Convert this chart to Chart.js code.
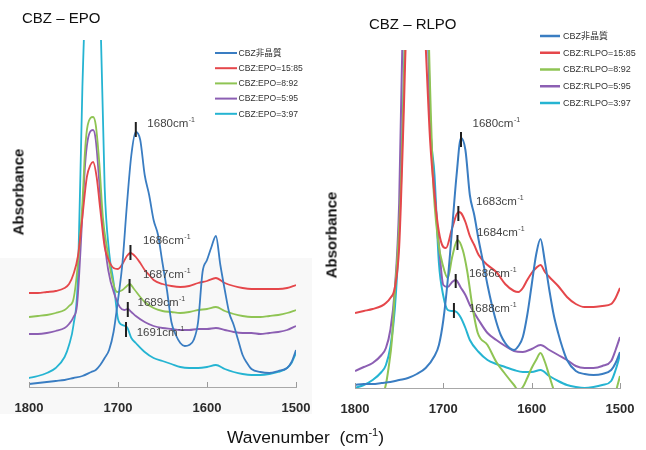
<!DOCTYPE html>
<html>
<head>
<meta charset="utf-8">
<script src="https://cdn.jsdelivr.net/npm/chart.js@4.4.0/dist/chart.umd.min.js"></script>
<style>
html,body{margin:0;padding:0;background:#fff;}
#wrap{position:relative;width:646px;height:450px;overflow:hidden;font-family:"Liberation Sans",Arial,sans-serif;}
canvas{position:absolute;top:0;}
#c1{left:0;}
#c2{left:318px;}
.t{position:absolute;white-space:nowrap;color:#111;line-height:1;}
.bg{position:absolute;background:#f8f8f8;}
sup{font-size:11px;vertical-align:7px;line-height:0;}
</style>
</head>
<body>
<div id="wrap">
<div class="bg" style="left:0;top:258px;width:312px;height:156px;"></div>
<canvas id="c1" width="318" height="450"></canvas>
<canvas id="c2" width="328" height="450"></canvas>
<div class="t" style="left:22px;top:10px;font-size:15px;">CBZ – EPO</div>
<div class="t" style="left:369px;top:16px;font-size:15px;">CBZ – RLPO</div>
<div class="t" style="left:18px;top:192px;font-size:15px;font-weight:bold;transform:translate(-50%,-50%) rotate(-90deg);">Absorbance</div>
<div class="t" style="left:331px;top:235px;font-size:15px;font-weight:bold;transform:translate(-50%,-50%) rotate(-90deg);">Absorbance</div>
<div class="t" style="left:227px;top:429px;font-size:17.4px;">Wavenumber&nbsp;&nbsp;(cm<sup>-1</sup>)</div>
</div>
<script>
// ---------- shared ----------
const tickWn = [1800, 1700, 1600, 1500];
const seriesColors = ['#3a7dc2', '#e5474b', '#8fc454', '#8c5fb3', '#25b4d2'];

// ---------- CBZ - EPO panel ----------
const epoLabels = ['CBZ非晶質', 'CBZ:EPO=15:85', 'CBZ:EPO=8:92', 'CBZ:EPO=5:95', 'CBZ:EPO=3:97'];

const epoBlueWn  = [1800,1790,1780,1770,1760,1750,1740,1730,1725,1720,1715,1710,1705,1700,1695,1690,1685,1680,1675,1670,1665,1660,1655,1650,1645,1640,1635,1630,1625,1620,1615,1610,1605,1600,1595,1590,1585,1580,1575,1570,1565,1560,1555,1550,1540,1530,1520,1510,1505,1500];
const epoBlueAbs = [3,4,5,6,7,9,11,15,17,22,29,37,55,87,124,182,232,255,247,212,192,167,152,124,97,65,52,44,41,42,47,65,115,127,140,151,122,97,74,62,47,32,24,18,15,14,16,19,25,37];

const epoRedWn  = [1800,1790,1780,1770,1760,1755,1750,1745,1740,1735,1731,1728,1724,1720,1715,1710,1705,1700,1695,1690,1686,1680,1675,1670,1665,1660,1650,1640,1630,1620,1610,1600,1590,1580,1570,1560,1550,1540,1530,1520,1510,1500];
const epoRedAbs = [94,94,95,96,99,103,113,131,170,210,222,225,210,178,140,126,119,118,123,131,134,130,124,117,112,107,103,101,100,101,104,106,109,104,101,99,98,98,98,98,99,102];

const epoGreenWn  = [1800,1790,1780,1770,1760,1755,1750,1745,1740,1737,1734,1728,1725,1721,1717,1712,1707,1701,1695,1690,1687,1682,1675,1670,1660,1650,1640,1630,1620,1610,1600,1590,1580,1570,1560,1550,1540,1530,1520,1510,1500];
const epoGreenAbs = [70,71,72,74,77,81,88,124,184,237,262,270,262,224,170,137,110,95,97,101,103,98,90,85,79,76,75,74,75,77,78,80,76,73,71,70,70,71,72,74,77];

const epoPurpleWn  = [1800,1790,1780,1770,1760,1755,1750,1746,1740,1737,1734,1728,1725,1718,1711,1703,1698,1693,1689,1685,1680,1670,1660,1650,1640,1630,1620,1610,1600,1590,1580,1570,1560,1550,1540,1530,1520,1510,1500];
const epoPurpleAbs = [53,53,54,56,59,63,70,82,172,222,247,257,247,170,117,90,80,77,78,75,71,65,61,59,58,57,57,58,58,59,57,55,54,54,53,54,55,57,61];

const epoCyanWn  = [1800,1790,1780,1770,1760,1755,1750,1745,1740,1735,1730,1725,1720,1715,1710,1705,1700,1695,1690,1685,1680,1670,1660,1650,1640,1630,1620,1610,1600,1590,1580,1570,1560,1550,1540,1530,1520,1510,1505,1500];
const epoCyanAbs = [9,11,14,19,30,42,62,110,300,420,460,440,380,200,135,105,68,62,60,49,44,35,29,26,23,20,19,19,20,22,18,15,13,12,12,13,15,19,24,34];

const epoPeakWn   = [1680, 1686, 1687, 1689, 1691];
const epoPeakLo   = [250, 127, 94, 70, 50];
const epoPeakHi   = [265, 142, 108, 85, 65];
const epoTextWn   = [1667, 1672, 1672, 1678, 1679];
const epoTextAbs  = [263, 146, 112, 84, 54];

// ---------- CBZ - RLPO panel ----------
const rlpoLabels = ['CBZ非晶質', 'CBZ:RLPO=15:85', 'CBZ:RLPO=8:92', 'CBZ:RLPO=5:95', 'CBZ:RLPO=3:97'];

const rlpoBlueWn  = [1800,1790,1780,1770,1760,1750,1740,1730,1720,1710,1705,1700,1695,1690,1685,1680,1675,1670,1665,1660,1655,1650,1645,1640,1635,1630,1625,1620,1615,1610,1605,1600,1595,1590,1585,1580,1575,1570,1565,1560,1550,1540,1530,1520,1510,1505,1500];
const rlpoBlueAbs = [3,4,4,5,6,8,10,14,20,32,43,68,108,160,213,250,238,193,173,148,126,103,83,66,53,45,40,38,42,51,73,103,133,149,126,98,73,55,40,28,17,14,13,14,18,25,36];

const rlpoRedWn  = [1800,1790,1780,1770,1765,1760,1755,1750,1745,1742,1730,1721,1715,1710,1705,1700,1697,1690,1683,1680,1675,1670,1665,1660,1650,1640,1630,1620,1615,1610,1605,1600,1595,1590,1585,1580,1570,1560,1550,1540,1530,1520,1510,1505,1500];
const rlpoRedAbs = [75,77,79,82,85,90,100,141,270,360,480,360,248,193,156,141,140,160,176,175,166,152,143,133,123,116,104,97,96,100,108,115,120,123,116,111,102,91,84,81,81,82,84,90,100];

const rlpoGreenWn  = [1800,1790,1780,1770,1766,1762,1758,1755,1752,1748,1744,1740,1730,1720,1715,1712,1706,1700,1695,1690,1684,1678,1673,1667,1661,1650,1640,1630,1620,1615,1610,1605,1600,1595,1590,1585,1580,1575,1570,1560,1550,1540,1530,1520,1510,1505,1500];
const rlpoGreenAbs = [-45,-30,-15,-4,0,20,50,95,130,200,330,450,480,450,300,215,148,121,110,131,148,138,117,81,55,43,26,14,3,-2,1,10,20,28,35,26,12,-2,-15,-30,-40,-45,-45,-40,-25,-5,12];

const rlpoPurpleWn  = [1800,1790,1780,1770,1765,1760,1755,1750,1746,1740,1730,1720,1715,1710,1705,1700,1695,1690,1686,1680,1675,1670,1660,1650,1640,1630,1620,1610,1600,1590,1580,1570,1560,1550,1540,1530,1520,1510,1505,1500];
const rlpoPurpleAbs = [17,21,25,33,40,58,98,185,360,460,480,460,273,198,143,103,101,106,108,100,93,83,68,55,48,42,37,36,39,43,38,33,28,22,20,20,22,27,38,51];

const rlpoCyanWn  = [1800,1790,1780,1770,1765,1760,1755,1750,1745,1740,1730,1720,1715,1710,1705,1700,1695,1690,1685,1680,1675,1670,1660,1650,1640,1630,1620,1610,1600,1590,1580,1570,1560,1550,1540,1530,1520,1510,1505,1500];
const rlpoCyanAbs = [0,3,8,16,23,41,78,158,300,450,480,450,268,213,125,92,78,77,76,70,60,48,36,28,24,21,18,16,16,18,12,7,3,1,0,1,3,7,18,33];

const rlpoPeakWn  = [1680, 1683, 1684, 1686, 1688];
const rlpoPeakLo  = [241, 167, 138, 100, 70];
const rlpoPeakHi  = [256, 182, 153, 114, 85];
const rlpoTextWn  = [1667, 1663, 1662, 1671, 1671];
const rlpoTextAbs = [264, 186, 155, 114, 79];

// ---------- plugins ----------
const insideLegend = {
  id: 'insideLegend',
  afterDraw(chart, args, o) {
    const ctx = chart.ctx;
    ctx.save();
    ctx.font = o.font;
    ctx.textBaseline = 'middle';
    ctx.textAlign = 'left';
    chart.data.datasets.forEach((ds, i) => {
      const y = o.y + i * o.gap;
      ctx.strokeStyle = ds.borderColor;
      ctx.lineWidth = o.lineWidth;
      ctx.beginPath();
      ctx.moveTo(o.x, y);
      ctx.lineTo(o.x + o.len, y);
      ctx.stroke();
      ctx.fillStyle = o.color;
      ctx.fillText(ds.label, o.x + o.len + o.textGap, y + 0.5);
    });
    ctx.restore();
  }
};

const peakMarks = {
  id: 'peakMarks',
  afterDatasetsDraw(chart, args, o) {
    const xs = chart.scales.x, ys = chart.scales.y, ctx = chart.ctx;
    ctx.save();
    o.wn.forEach((w, i) => {
      const x = xs.getPixelForValue(w);
      ctx.strokeStyle = '#1e1e1e';
      ctx.lineWidth = 2;
      ctx.beginPath();
      ctx.moveTo(x, ys.getPixelForValue(o.hi[i]));
      ctx.lineTo(x, ys.getPixelForValue(o.lo[i]));
      ctx.stroke();
      const tx = xs.getPixelForValue(o.textWn[i]);
      const ty = ys.getPixelForValue(o.textAbs[i]);
      const main = w + 'cm';
      ctx.font = '11.5px "Liberation Sans", Arial, sans-serif';
      ctx.fillStyle = '#444';
      ctx.textBaseline = 'middle';
      ctx.textAlign = 'left';
      ctx.fillText(main, tx, ty);
      const mw = ctx.measureText(main).width;
      ctx.font = '7px "Liberation Sans", Arial, sans-serif';
      ctx.fillText('-1', tx + mw + 0.5, ty - 4);
    });
    ctx.restore();
  }
};

const axisTicks = {
  id: 'axisTicks',
  afterDraw(chart) {
    const xs = chart.scales.x, ctx = chart.ctx;
    const yb = chart.chartArea.bottom;
    ctx.save();
    ctx.strokeStyle = '#9a9a9a';
    ctx.lineWidth = 1;
    tickWn.forEach(v => {
      const x = Math.round(xs.getPixelForValue(v)) + 0.5;
      ctx.beginPath();
      ctx.moveTo(x, yb);
      ctx.lineTo(x, yb - 5);
      ctx.stroke();
    });
    ctx.restore();
  }
};

function buildSets(labels, wns, abss, width) {
  return labels.map((lab, i) => ({
    label: lab,
    data: wns[i].map((w, k) => ({ x: w, y: abss[i][k] })),
    borderColor: seriesColors[i],
    borderWidth: width,
    pointRadius: 0,
    fill: false,
    cubicInterpolationMode: 'monotone',
    clip: 0
  }));
}

function makeChart(id, datasets, yMax, pad, legendOpts, peakOpts) {
  return new Chart(document.getElementById(id), {
    type: 'line',
    data: { datasets },
    options: {
      responsive: false,
      animation: false,
      events: [],
      layout: { padding: pad },
      scales: {
        x: {
          type: 'linear', reverse: true, min: 1500, max: 1800,
          afterBuildTicks: ax => { ax.ticks = tickWn.map(v => ({ value: v })); },
          afterFit: ax => { ax.height = 30; },
          grid: { display: false, drawTicks: false },
          border: { display: true, color: '#a8a8a8', width: 1 },
          ticks: {
            padding: 6, color: '#2b2b2b', maxRotation: 0, autoSkip: false,
            font: { family: '"Liberation Sans", Arial, sans-serif', size: 13, weight: 'bold', lineHeight: 2.4 },
            callback: v => String(v)
          }
        },
        y: { display: false, min: 0, max: yMax }
      },
      plugins: {
        legend: { display: false },
        tooltip: { enabled: false },
        insideLegend: legendOpts,
        peakMarks: peakOpts
      }
    },
    plugins: [insideLegend, peakMarks, axisTicks]
  });
}

makeChart('c1',
  buildSets(epoLabels,
    [epoBlueWn, epoRedWn, epoGreenWn, epoPurpleWn, epoCyanWn],
    [epoBlueAbs, epoRedAbs, epoGreenAbs, epoPurpleAbs, epoCyanAbs], 1.8),
  347,
  { left: 29, right: 22, top: 40, bottom: 33 },
  { x: 215, y: 53, gap: 15.2, len: 22, textGap: 1.5, lineWidth: 2, color: '#333',
    font: '8.6px "Liberation Sans", "Noto Sans CJK JP", sans-serif' },
  { wn: epoPeakWn, lo: epoPeakLo, hi: epoPeakHi, textWn: epoTextWn, textAbs: epoTextAbs });

makeChart('c2',
  buildSets(rlpoLabels,
    [rlpoBlueWn, rlpoRedWn, rlpoGreenWn, rlpoPurpleWn, rlpoCyanWn],
    [rlpoBlueAbs, rlpoRedAbs, rlpoGreenAbs, rlpoPurpleAbs, rlpoCyanAbs], 2),
  338,
  { left: 37, right: 26, top: 50, bottom: 32 },
  { x: 222, y: 36, gap: 16.75, len: 20, textGap: 3, lineWidth: 2.5, color: '#333',
    font: '9px "Liberation Sans", "Noto Sans CJK JP", sans-serif' },
  { wn: rlpoPeakWn, lo: rlpoPeakLo, hi: rlpoPeakHi, textWn: rlpoTextWn, textAbs: rlpoTextAbs });
</script>
</body>
</html>
